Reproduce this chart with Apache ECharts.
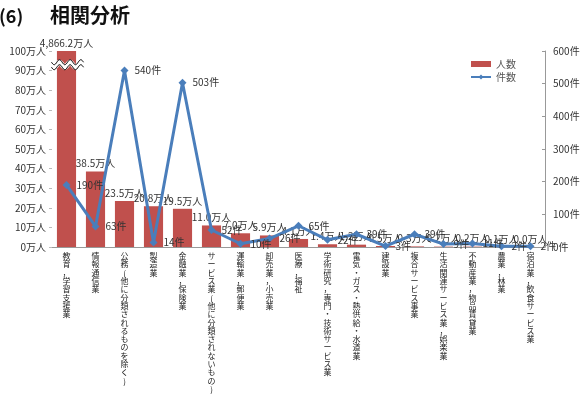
<!DOCTYPE html>
<html>
<head>
<meta charset="utf-8">
<script src="https://cdn.jsdelivr.net/npm/echarts@6/dist/echarts.min.js"></script>
<style>
  html, body { margin: 0; padding: 0; background: #fff; }
  #chart { width: 585px; height: 407px; }
</style>
</head>
<body>
<div id="chart"></div>
<script>
let categories = [
    "教育，学習支援業", "情報通信業", "公務(他に分類されるものを除く)", "製造業",
    "金融業，保険業", "サービス業(他に分類されないもの)", "運輸業，郵便業", "卸売業，小売業",
    "医療，福祉", "学術研究，専門・技術サービス業", "電気・ガス・熱供給・水道業", "建設業",
    "複合サービス事業", "生活関連サービス業，娯楽業", "不動産業，物品賃貸業", "農業，林業",
    "宿泊業，飲食サービス業"
];
let peopleValues = [4866.2, 38.5, 23.5, 20.8, 19.5, 11.0, 7.0, 5.9, 4.1, 1.4, 1.2, 0.5, 0.3, 0.2, 0.2, 0.1, 0.0];
let caseValues = [190, 63, 540, 14, 503, 52, 10, 26, 65, 22, 39, 3, 39, 9, 11, 2, 2];
let peopleTicks = [0, 10, 20, 30, 40, 50, 60, 70, 80, 90, 100];
let caseTicks = [0, 100, 200, 300, 400, 500, 600];

let peopleMax = peopleTicks[peopleTicks.length - 1];
let fontFamily = '"Noto Sans CJK JP", sans-serif';
let titleGraphics = [
    { type: 'text', left: -1, top: 7, style: { text: '(6)', fontSize: 18, fontWeight: 'bold', fill: '#111', fontFamily: fontFamily } },
    { type: 'text', left: 50, top: 5, style: { text: '相関分析', fontSize: 20, fontWeight: 'bold', fill: '#111', fontFamily: fontFamily } }
];

let chart = echarts.init(document.getElementById('chart'));

let option = {
    animation: false,
    textStyle: { fontFamily: fontFamily },
    graphic: titleGraphics,
    legend: {
        right: 64,
        top: 54,
        orient: 'vertical',
        itemWidth: 20,
        itemHeight: 6,
        itemGap: 3,
        textStyle: { fontSize: 10, color: '#555' },
        data: [
            { name: '人数', icon: 'rect' },
            { name: '件数' }
        ]
    },
    grid: { left: 52, right: 40, top: 51, bottom: 160 },
    xAxis: {
        type: 'category',
        data: categories,
        axisLine: { lineStyle: { color: '#999' } },
        axisTick: { show: false },
        axisLabel: {
            interval: 0,
            fontSize: 8,
            lineHeight: 8.3,
            color: '#222',
            verticalAlign: 'top',
            margin: 5,
            formatter: function (value) {
                return value.split('').join('\n');
            }
        }
    },
    yAxis: [{
        type: 'value',
        min: 0,
        max: peopleMax,
        interval: 10,
        splitLine: { show: false },
        axisLine: { show: false },
        axisTick: { show: true, length: 3, lineStyle: { color: '#bbb' } },
        axisLabel: {
            fontSize: 10,
            color: '#333',
            margin: 6,
            formatter: function (value) {
                return value + '万人';
            }
        }
    }, {
        type: 'value',
        min: 0,
        max: caseTicks[caseTicks.length - 1],
        interval: 100,
        splitLine: { show: false },
        axisLine: { show: true, lineStyle: { color: '#999' } },
        axisTick: { show: true, inside: true, length: 3, lineStyle: { color: '#999' } },
        axisLabel: {
            fontSize: 10,
            color: '#333',
            margin: 8,
            formatter: function (value) {
                return value + '件';
            }
        }
    }],
    series: [{
        name: '人数',
        type: 'bar',
        barWidth: '66%',
        itemStyle: { color: '#C0504D' },
        label: {
            show: true,
            position: 'top',
            distance: 3,
            fontSize: 10,
            color: '#333',
            formatter: function (p) {
                return peopleValues[p.dataIndex].toLocaleString('en-US', { minimumFractionDigits: 1, maximumFractionDigits: 1 }) + '万人';
            }
        },
        data: peopleValues.map(function (v) { return Math.min(v, peopleMax); })
    }, {
        name: '件数',
        type: 'line',
        yAxisIndex: 1,
        symbol: 'diamond',
        symbolSize: 8,
        lineStyle: { color: '#4A7EBB', width: 3 },
        itemStyle: { color: '#4A7EBB' },
        label: {
            show: true,
            position: 'right',
            distance: 6,
            fontSize: 10,
            color: '#333',
            formatter: function (p) {
                return p.value + '件';
            }
        },
        data: caseValues
    }]
};
chart.setOption(option);

// wavy break mark across the capped first bar
let breakCenter = chart.convertToPixel({ gridIndex: 0 }, [0, 93]);
let wavePoints = [];
for (let i = 0; i <= 48; i++) {
    let t = i / 48;
    wavePoints.push([breakCenter[0] - 15 + t * 32, breakCenter[1] + Math.sin(t * Math.PI * 6) * 2.5]);
}
let shift = function (pts, dy) {
    return pts.map(function (p) { return [p[0], p[1] + dy]; });
};
chart.setOption({
    graphic: titleGraphics.concat([
        { type: 'polyline', z: 100, shape: { points: wavePoints }, style: { stroke: '#fff', lineWidth: 5, fill: null } },
        { type: 'polyline', z: 101, shape: { points: shift(wavePoints, -2.5) }, style: { stroke: '#000', lineWidth: 1, fill: null } },
        { type: 'polyline', z: 101, shape: { points: shift(wavePoints, 2.5) }, style: { stroke: '#000', lineWidth: 1, fill: null } }
    ])
});
</script>
</body>
</html>
